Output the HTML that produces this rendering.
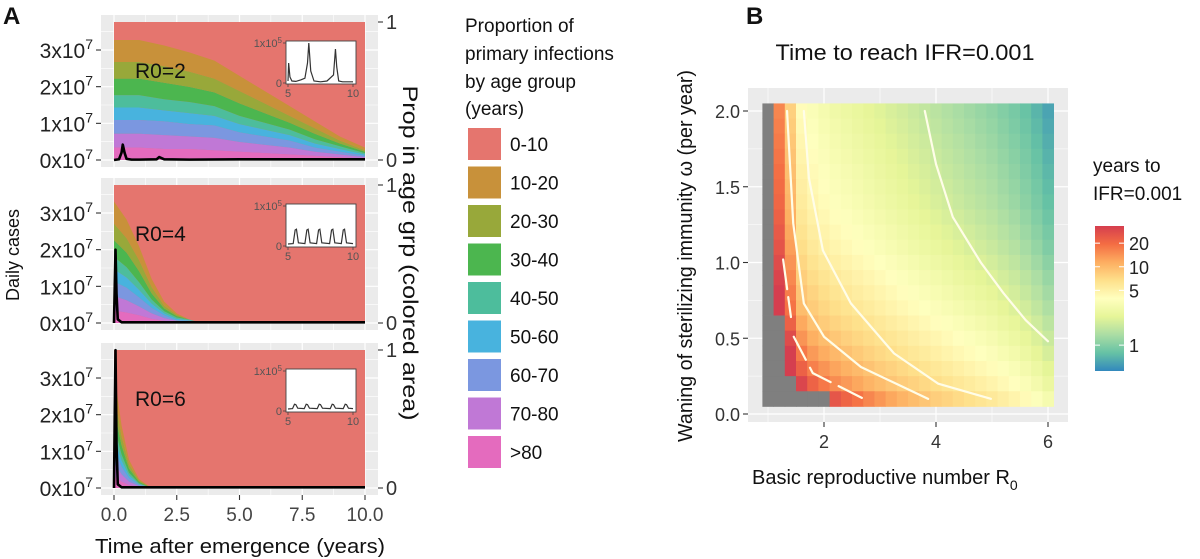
<!DOCTYPE html>
<html><head><meta charset="utf-8"><style>
html,body{margin:0;padding:0;background:#fff;}
svg{display:block;font-family:"Liberation Sans",Arial,sans-serif;}
</style></head><body>
<svg id="chart" width="1200" height="559" viewBox="0 0 1200 559" xmlns="http://www.w3.org/2000/svg">
<text x="3" y="24" font-size="24" font-weight="bold" fill="#111">A</text>
<text x="746" y="24" font-size="24" font-weight="bold" fill="#111">B</text>
<text transform="translate(19,255) rotate(-90)" text-anchor="middle" font-size="18" fill="#111">Daily cases</text>
<text transform="translate(403,253) rotate(90)" text-anchor="middle" font-size="21" fill="#111" textLength="335" lengthAdjust="spacingAndGlyphs">Prop in age grp (colored area)</text>
<text x="240" y="553" text-anchor="middle" font-size="20" fill="#111" textLength="290" lengthAdjust="spacingAndGlyphs">Time after emergence (years)</text>
<g font-size="19" fill="#111">
<text x="465" y="32">Proportion of</text>
<text x="465" y="60">primary infections</text>
<text x="465" y="88">by age group</text>
<text x="465" y="115">(years)</text>
</g>
<text x="905" y="60" text-anchor="middle" font-size="22" fill="#111" textLength="259" lengthAdjust="spacingAndGlyphs">Time to reach IFR=0.001</text>
<text transform="translate(692,256) rotate(-90)" text-anchor="middle" font-size="20" fill="#111" textLength="372" lengthAdjust="spacingAndGlyphs">Waning of sterilizing immunity ω (per year)</text>
<text x="752" y="484" font-size="20" fill="#111">Basic reproductive number R<tspan dy="6" font-size="14">0</tspan></text>
<text x="1093" y="172" font-size="19" fill="#111">years to</text>
<text x="1093" y="200" font-size="19" fill="#111">IFR=0.001</text>
<defs>
<linearGradient id="cbg" x1="0" y1="1" x2="0" y2="0">
<stop offset="0" stop-color="#3288BD"/><stop offset="0.125" stop-color="#66C2A5"/><stop offset="0.25" stop-color="#ABDDA4"/><stop offset="0.375" stop-color="#E6F598"/><stop offset="0.5" stop-color="#FFFFBF"/><stop offset="0.625" stop-color="#FEE08B"/><stop offset="0.75" stop-color="#FDAE61"/><stop offset="0.875" stop-color="#F46D43"/><stop offset="1" stop-color="#D53E4F"/>
</linearGradient>
</defs>
<rect x="1095" y="226" width="29" height="145" fill="url(#cbg)"/>
</svg>
<script>
// ---------- Panel A data ----------
const ageGroups = ['0-10','10-20','20-30','30-40','40-50','50-60','60-70','70-80','>80'];
const ageColors = ['#E5756E','#C8913A','#98A83A','#4CB64F','#4DBD9C','#48B3DE','#7B97E0','#C078D6','#E46BBE'];
const caseTicks = [0,1,2,3];
const timeTicks = [0,2.5,5,7.5,10];
const timeTickLabels = ['0.0','2.5','5.0','7.5','10.0'];
const facetLabels = ['R0=2','R0=4','R0=6'];
const f1Times = [0,1,2,3,4,5,6,7,8,9,10];
const f1Props = [
 [0.16,0.16,0.15,0.14,0.13,0.11,0.09,0.07,0.05,0.03,0.02],
 [0.12,0.12,0.12,0.11,0.10,0.09,0.07,0.05,0.04,0.02,0.01],
 [0.12,0.12,0.12,0.11,0.10,0.09,0.07,0.05,0.04,0.02,0.01],
 [0.09,0.09,0.08,0.08,0.07,0.06,0.05,0.04,0.03,0.02,0.01],
 [0.09,0.09,0.08,0.08,0.07,0.06,0.05,0.04,0.03,0.02,0.01],
 [0.10,0.10,0.10,0.09,0.09,0.07,0.06,0.05,0.03,0.02,0.01],
 [0.10,0.10,0.10,0.09,0.09,0.07,0.06,0.05,0.03,0.02,0.01],
 [0.09,0.09,0.08,0.08,0.07,0.06,0.05,0.04,0.03,0.02,0.01]];
const f2Times = [0,0.5,1,1.5,2,2.5,3,3.5,10];
const f2Props = [
 [0.16,0.135,0.10,0.06,0.03,0.01,0,0,0],
 [0.12,0.105,0.08,0.045,0.02,0.01,0,0,0],
 [0.12,0.105,0.08,0.045,0.02,0.01,0,0,0],
 [0.09,0.075,0.055,0.03,0.015,0.01,0.005,0,0],
 [0.09,0.075,0.055,0.03,0.015,0.01,0.005,0,0],
 [0.105,0.09,0.065,0.04,0.02,0.005,0.005,0,0],
 [0.105,0.09,0.065,0.04,0.02,0.005,0.005,0,0],
 [0.09,0.075,0.055,0.03,0.015,0.01,0.005,0,0]];
const f3Times = [0,0.3,0.6,1,1.5,10];
const f3Props = [
 [0.15,0.08,0.035,0.01,0,0],
 [0.12,0.065,0.03,0.01,0,0],
 [0.12,0.065,0.03,0.01,0,0],
 [0.085,0.045,0.02,0.006,0,0],
 [0.085,0.045,0.02,0.006,0,0],
 [0.10,0.055,0.025,0.008,0,0],
 [0.10,0.055,0.025,0.008,0,0],
 [0.085,0.045,0.02,0.006,0,0]];
const f1CaseT = [0,0.2,0.3,0.35,0.42,0.5,0.7,1.0,1.7,1.8,2.0,3,5,7.5,10];
const f1CaseV = [0,0.02,0.2,0.42,0.2,0.03,0.01,0.01,0.02,0.08,0.02,0.01,0.02,0.02,0.02];
const f2CaseT = [0,0.03,0.06,0.1,0.15,0.3,10];
const f2CaseV = [0,1.0,2.0,0.8,0.1,0.02,0.02];
const f3CaseT = [0,0.03,0.06,0.1,0.15,0.3,10];
const f3CaseV = [0,2.0,3.76,1.2,0.1,0.02,0.02];
const in1T = [5,5.05,5.15,5.3,5.6,6.0,6.3,6.5,6.6,6.75,7,7.5,8,8.5,8.65,8.75,8.9,9.2,9.6,10];
const in1V = [0.05,0.5,0.15,0.05,0.04,0.08,0.12,0.5,1.0,0.3,0.05,0.03,0.05,0.2,0.85,0.4,0.05,0.03,0.03,0.03];
const in2T = [5,5.4,5.55,5.65,5.8,6.3,6.45,6.55,6.7,7.2,7.35,7.45,7.6,8.2,8.35,8.45,8.6,9.1,9.25,9.35,9.5,10];
const in2V = [0.05,0.06,0.4,0.42,0.08,0.06,0.4,0.42,0.08,0.06,0.4,0.42,0.08,0.06,0.4,0.42,0.08,0.06,0.4,0.42,0.08,0.06];
const in3T = [5,5.35,5.5,5.6,5.75,6.25,6.4,6.5,6.65,7.25,7.4,7.5,7.65,8.25,8.4,8.5,8.65,9.25,9.4,9.5,9.65,10];
const in3V = [0.05,0.06,0.17,0.16,0.07,0.06,0.17,0.16,0.07,0.06,0.17,0.16,0.07,0.06,0.17,0.16,0.07,0.06,0.17,0.16,0.07,0.06];

// ---------- Panel B data ----------
const r0Values = [1.0,1.2,1.4,1.6,1.8,2.0,2.2,2.4,2.6,2.8,3.0,3.2,3.4,3.6,3.8,4.0,4.2,4.4,4.6,4.8,5.0,5.2,5.4,5.6,5.8,6.0];
const omegaValues = [2.0,1.9,1.8,1.7,1.6,1.5,1.4,1.3,1.2,1.1,1.0,0.9,0.8,0.7,0.6,0.5,0.4,0.3,0.2,0.1];
const log10Years = [
[null,1.20,0.90,0.62,0.55,0.50,0.46,0.43,0.40,0.37,0.34,0.31,0.28,0.25,0.22,0.19,0.16,0.13,0.10,0.07,0.04,0.00,-0.04,-0.09,-0.15,-0.22],
[null,1.22,0.92,0.64,0.57,0.52,0.48,0.45,0.42,0.39,0.36,0.33,0.30,0.27,0.24,0.21,0.18,0.15,0.12,0.09,0.06,0.02,-0.02,-0.07,-0.13,-0.20],
[null,1.24,0.94,0.66,0.59,0.54,0.50,0.47,0.44,0.41,0.38,0.35,0.32,0.29,0.26,0.23,0.20,0.17,0.14,0.11,0.08,0.04,0.00,-0.05,-0.11,-0.18],
[null,1.26,0.96,0.68,0.61,0.56,0.52,0.49,0.46,0.43,0.40,0.37,0.34,0.31,0.28,0.25,0.22,0.19,0.16,0.13,0.10,0.06,0.02,-0.03,-0.09,-0.16],
[null,1.28,0.98,0.70,0.63,0.58,0.54,0.51,0.48,0.45,0.42,0.39,0.36,0.33,0.30,0.27,0.24,0.21,0.18,0.15,0.12,0.08,0.04,-0.01,-0.07,-0.14],
[null,1.30,1.00,0.72,0.65,0.60,0.56,0.53,0.50,0.47,0.44,0.41,0.38,0.35,0.32,0.29,0.26,0.23,0.20,0.17,0.14,0.10,0.06,0.01,-0.05,-0.12],
[null,1.32,1.02,0.74,0.67,0.62,0.58,0.55,0.52,0.49,0.46,0.43,0.40,0.37,0.34,0.31,0.28,0.25,0.22,0.19,0.16,0.12,0.08,0.03,-0.03,-0.10],
[null,1.35,1.05,0.77,0.70,0.65,0.61,0.58,0.55,0.52,0.49,0.46,0.43,0.40,0.37,0.34,0.31,0.28,0.25,0.22,0.19,0.15,0.11,0.06,0.00,-0.07],
[null,1.38,1.08,0.80,0.73,0.68,0.64,0.61,0.58,0.55,0.52,0.49,0.46,0.43,0.40,0.37,0.34,0.31,0.28,0.25,0.22,0.18,0.14,0.09,0.03,-0.04],
[null,1.41,1.11,0.83,0.76,0.71,0.67,0.64,0.61,0.58,0.55,0.52,0.49,0.46,0.43,0.40,0.37,0.34,0.31,0.28,0.25,0.21,0.17,0.12,0.06,-0.01],
[null,1.45,1.15,0.87,0.80,0.75,0.71,0.68,0.65,0.62,0.59,0.56,0.53,0.50,0.47,0.44,0.41,0.38,0.35,0.32,0.29,0.25,0.21,0.16,0.10,0.03],
[null,1.49,1.19,0.91,0.84,0.79,0.75,0.72,0.69,0.66,0.63,0.60,0.57,0.54,0.51,0.48,0.45,0.42,0.39,0.36,0.33,0.29,0.25,0.20,0.14,0.07],
[null,1.52,1.23,0.95,0.88,0.83,0.79,0.76,0.73,0.70,0.67,0.64,0.61,0.58,0.55,0.52,0.49,0.46,0.43,0.40,0.37,0.33,0.29,0.24,0.18,0.11],
[null,1.52,1.27,0.99,0.92,0.87,0.83,0.80,0.77,0.74,0.71,0.68,0.65,0.62,0.59,0.56,0.53,0.50,0.47,0.44,0.41,0.37,0.33,0.28,0.22,0.15],
[null,null,1.35,1.07,0.97,0.92,0.88,0.85,0.82,0.79,0.76,0.73,0.70,0.67,0.64,0.61,0.58,0.55,0.52,0.49,0.46,0.42,0.38,0.33,0.27,0.20],
[null,null,1.45,1.15,1.05,0.99,0.94,0.90,0.87,0.84,0.81,0.78,0.75,0.72,0.69,0.66,0.63,0.60,0.57,0.54,0.51,0.47,0.43,0.38,0.32,0.25],
[null,null,1.52,1.25,1.13,1.06,1.01,0.97,0.93,0.89,0.86,0.83,0.80,0.77,0.74,0.71,0.68,0.65,0.62,0.59,0.56,0.52,0.48,0.43,0.37,0.30],
[null,null,1.52,1.35,1.22,1.15,1.09,1.04,1.00,0.96,0.92,0.89,0.86,0.83,0.80,0.77,0.74,0.71,0.68,0.65,0.62,0.58,0.54,0.49,0.43,0.36],
[null,null,null,1.48,1.34,1.25,1.18,1.13,1.08,1.03,0.99,0.95,0.92,0.89,0.86,0.83,0.80,0.77,0.74,0.71,0.68,0.64,0.60,0.55,0.49,0.42],
[null,null,null,null,null,null,1.40,1.33,1.27,1.20,1.14,1.08,1.03,0.99,0.95,0.91,0.88,0.85,0.82,0.79,0.76,0.72,0.68,0.63,0.57,0.50]];
const contour2R0 = [3.8,4.0,4.3,4.8,5.2,5.6,6.0];
const contour2W = [2.0,1.65,1.3,1.0,0.8,0.62,0.48];
const contour5R0 = [1.64,1.73,1.98,2.48,3.25,4.04,4.98];
const contour5W = [2.0,1.56,1.08,0.73,0.4,0.2,0.1];
const contour10R0 = [1.34,1.45,1.64,2.0,2.66,3.86];
const contour10W = [2.0,1.26,0.73,0.51,0.31,0.1];
const contour20aR0 = [1.27,1.41];
const contour20aW = [1.02,0.64];
const contour20bR0 = [1.46,1.8,2.71];
const contour20bW = [0.51,0.27,0.1];
const r0Ticks = [2,4,6];
const omegaTicks = [0,0.5,1.0,1.5,2.0];
const omegaTickLabels = ['0.0','0.5','1.0','1.5','2.0'];
const cbTicks = [20,10,5,1];

const NS = 'http://www.w3.org/2000/svg';
const svg = document.getElementById('chart');
function mk(tag, attrs, parent){
  const e = document.createElementNS(NS, tag);
  for (const k in attrs) e.setAttribute(k, attrs[k]);
  (parent || svg).appendChild(e);
  return e;
}

// ---------- Panel A ----------
const xA = t => 114 + t * 25.1;
const facetTops = [15, 178, 343];
const facetTimes = [f1Times, f2Times, f3Times];
const facetProps = [f1Props, f2Props, f3Props];
const facetCaseT = [f1CaseT, f2CaseT, f3CaseT];
const facetCaseV = [f1CaseV, f2CaseV, f3CaseV];
const insetT = [in1T, in2T, in3T];
const insetV = [in1V, in2V, in3V];

facetTops.forEach((bgTop, fi) => {
  const g = mk('g', {});
  
  
  const bgBot = bgTop + 152;
  const top = bgTop + 7, bot = bgBot - 7;
  const yP = p => bot - p * (bot - top);
  const yC = c => yP(c / 3.764);
  const bg = mk('rect', {x:101, y:bgTop, width:277, height:152, fill:'#EBEBEB'}, g);
  
  
  for (let t = 0; t <= 10.01; t += 1.25) {
    const major = Math.abs(t / 2.5 - Math.round(t / 2.5)) < 1e-6;
    const gl = mk('line', {x1:xA(t), x2:xA(t), y1:bgTop, y2:bgBot, stroke:'#fff', 'stroke-width': major ? 1.2 : 0.6}, g);
    
    
  }
  for (let c = 0; c <= 3.51; c += 0.5) {
    const major = Math.abs(c - Math.round(c)) < 1e-6;
    const gl = mk('line', {x1:101, x2:378, y1:yC(c), y2:yC(c), stroke:'#fff', 'stroke-width': major ? 1.2 : 0.6}, g);
    
    
  }
  const base = mk('rect', {x:xA(0), y:yP(1), width:xA(10) - xA(0), height:yP(0) - yP(1), fill:ageColors[0]}, g);
  
  
  const times = facetTimes[fi], props = facetProps[fi];
  const n = props.length;
  const lower = times.map(() => 0);
  for (let k = n - 1; k >= 0; k--) {
    const upper = times.map((t, i) => lower[i] + props[k][i]);
    let pts = times.map((t, i) => xA(t) + ',' + yP(upper[i])).join(' ');
    pts += ' ' + times.slice().reverse().map((t, j) => xA(t) + ',' + yP(lower[times.length - 1 - j])).join(' ');
    const poly = mk('polygon', {points: pts, fill: ageColors[k + 1]}, g);
    
    
    for (let i = 0; i < lower.length; i++) lower[i] = upper[i];
  }
  const ct = facetCaseT[fi], cv = facetCaseV[fi];
  const cl = mk('polyline', {points: ct.map((t, i) => xA(t) + ',' + yC(cv[i])).join(' '), fill:'none', stroke:'#000', 'stroke-width':2.6, 'stroke-linejoin':'round'}, g);
  
  
  caseTicks.forEach(c => {
    const tk = mk('line', {x1:96, x2:101, y1:yC(c), y2:yC(c), stroke:'#333', 'stroke-width':1.1}, g);
    
    
    const tx = mk('text', {x:93, y:yC(c) + 8, 'text-anchor':'end', 'font-size':21, fill:'#222'}, g);
    
    
    tx.appendChild(document.createTextNode(c + 'x10'));
    const sup = mk('tspan', {dy:-9, 'font-size':14}, tx);
    sup.textContent = '7';
  });
  [0, 1].forEach(p => {
    const tk = mk('line', {x1:378, x2:383, y1:yP(p), y2:yP(p), stroke:'#333', 'stroke-width':1.1}, g);
    
    
    const tx = mk('text', {x:386, y:yP(p) + 7, 'font-size':20, fill:'#333'}, g);
    
    
    tx.textContent = String(p);
  });
  const fl = mk('text', {x:135, y:bgTop + 63, 'font-size':21, fill:'#111'}, g);
  
  
  fl.textContent = facetLabels[fi];
  const it = bgTop + 26;
  const xI = t => 288 + (t - 5) * 13;
  const yI = v => it + 42 - v * 40;
  const ib = mk('rect', {x:286, y:it, width:70, height:43, fill:'#fff', stroke:'#444', 'stroke-width':0.9}, g);
  
  
  const il = mk('polyline', {points: insetT[fi].map((t, i) => xI(t) + ',' + yI(insetV[fi][i])).join(' '), fill:'none', stroke:'#333', 'stroke-width':1.2}, g);
  
  
  [[0, '0'], [1, '1x10']].forEach(([v, lab]) => {
    const tk = mk('line', {x1:283, x2:286, y1:yI(v), y2:yI(v), stroke:'#444', 'stroke-width':0.8}, g);
    
    
    const tx = mk('text', {x:282, y:yI(v) + 4, 'text-anchor':'end', 'font-size':11, fill:'#555'}, g);
    
    
    tx.appendChild(document.createTextNode(lab));
    if (v === 1) { const s = mk('tspan', {dy:-4, 'font-size':8}, tx); s.textContent = '5'; }
  });
  [5, 10].forEach(t => {
    const tk = mk('line', {x1:xI(t), x2:xI(t), y1:it + 43, y2:it + 46, stroke:'#444', 'stroke-width':0.8}, g);
    
    
    const tx = mk('text', {x:xI(t), y:it + 56, 'text-anchor':'middle', 'font-size':11, fill:'#555'}, g);
    
    
    tx.textContent = String(t);
  });
});
timeTicks.forEach((t, i) => {
  const tk = mk('line', {x1:xA(t), x2:xA(t), y1:495, y2:500, stroke:'#333', 'stroke-width':1.1});
  
  
  const tx = mk('text', {x:xA(t), y:521, 'text-anchor':'middle', 'font-size':19, fill:'#444'});
  
  
  tx.textContent = timeTickLabels[i];
});
ageGroups.forEach((a, i) => {
  const y = 128 + i * 38.5;
  const r = mk('rect', {x:468, y:y, width:33, height:32, fill:ageColors[i]});
  
  
  const tx = mk('text', {x:510, y:y + 23, 'font-size':19, fill:'#111'});
  
  
  tx.textContent = a;
});

// ---------- Panel B ----------
const xB = r => 768 + (r - 1) * 56;
const yB = w => 414 - w * 151.5;
const bgB = mk('rect', {x:748, y:88, width:320, height:334, fill:'#EBEBEB'});


[1, 2, 3, 4, 5, 6].forEach(r => {
  const gl = mk('line', {x1:xB(r), x2:xB(r), y1:88, y2:422, stroke:'#fff', 'stroke-width': r % 2 === 0 ? 1.2 : 0.6});
  
  
});
for (let w = 0; w <= 2.01; w += 0.25) {
  const major = Math.abs(w * 2 - Math.round(w * 2)) < 1e-6;
  const gl = mk('line', {x1:748, x2:1068, y1:yB(w), y2:yB(w), stroke:'#fff', 'stroke-width': major ? 1.2 : 0.6});
  
  
}
const spectral = ['#3288BD','#66C2A5','#ABDDA4','#E6F598','#FFFFBF','#FEE08B','#FDAE61','#F46D43','#D53E4F'];
const LMIN = -0.33, LMAX = 1.52;
function hex2rgb(h){ return [parseInt(h.slice(1,3),16), parseInt(h.slice(3,5),16), parseInt(h.slice(5,7),16)]; }
function colorFor(l){
  let f = (l - LMIN) / (LMAX - LMIN); f = Math.max(0, Math.min(1, f));
  const p = f * (spectral.length - 1); const i = Math.min(Math.floor(p), spectral.length - 2); const u = p - i;
  const a = hex2rgb(spectral[i]), b = hex2rgb(spectral[i + 1]);
  return 'rgb(' + a.map((v, k) => Math.round(v + (b[k] - v) * u)).join(',') + ')';
}
const cw = 0.2 * 56, ch = 0.1 * 151.5;
const cellsG = mk('g', {});


omegaValues.forEach((w, ri) => {
  r0Values.forEach((r, ci) => {
    const v = log10Years[ri][ci];
    const cell = mk('rect', {x:xB(r) - cw / 2, y:yB(w) - ch / 2, width:cw + 0.4, height:ch + 0.4, fill: v === null ? '#7F7F7F' : colorFor(v)}, cellsG);
    
    
  });
});
function contour(rs, ws, name, dash){
  const attrs = {points: rs.map((r, i) => xB(r) + ',' + yB(ws[i])).join(' '), fill:'none', stroke:'#FFFDE8', 'stroke-width':2.2, 'stroke-linecap':'round', 'stroke-linejoin':'round'};
  if (dash) attrs['stroke-dasharray'] = dash;
  const pl = mk('polyline', attrs);
  
  
}
contour(contour2R0, contour2W, 'contour-2-years');
contour(contour5R0, contour5W, 'contour-5-years');
contour(contour10R0, contour10W, 'contour-10-years');
contour(contour20aR0, contour20aW, 'contour-20-years', '30,8');
contour(contour20bR0, contour20bW, 'contour-20-years', '26,9');
r0Ticks.forEach(r => {
  const tk = mk('line', {x1:xB(r), x2:xB(r), y1:422, y2:427, stroke:'#333', 'stroke-width':1.1});
  
  
  const tx = mk('text', {x:xB(r), y:448, 'text-anchor':'middle', 'font-size':18, fill:'#333'});
  
  
  tx.textContent = String(r);
});
omegaTicks.forEach((w, i) => {
  const tk = mk('line', {x1:743, x2:748, y1:yB(w), y2:yB(w), stroke:'#333', 'stroke-width':1.1});
  
  
  const tx = mk('text', {x:740, y:yB(w) + 7, 'text-anchor':'end', 'font-size':18, fill:'#333'});
  
  
  tx.textContent = omegaTickLabels[i];
});
const yCb = v => 226 + (LMAX - Math.log10(v)) / (LMAX - LMIN) * 145;
cbTicks.forEach(v => {
  [[1095, 1100], [1119, 1124]].forEach(([a, b]) => {
    const tk = mk('line', {x1:a, x2:b, y1:yCb(v), y2:yCb(v), stroke:'#fff', 'stroke-width':1});
    
    
  });
  const tx = mk('text', {x:1129, y:yCb(v) + 7, 'font-size':18, fill:'#222'});
  
  
  tx.textContent = String(v);
});
</script>
</body></html>
